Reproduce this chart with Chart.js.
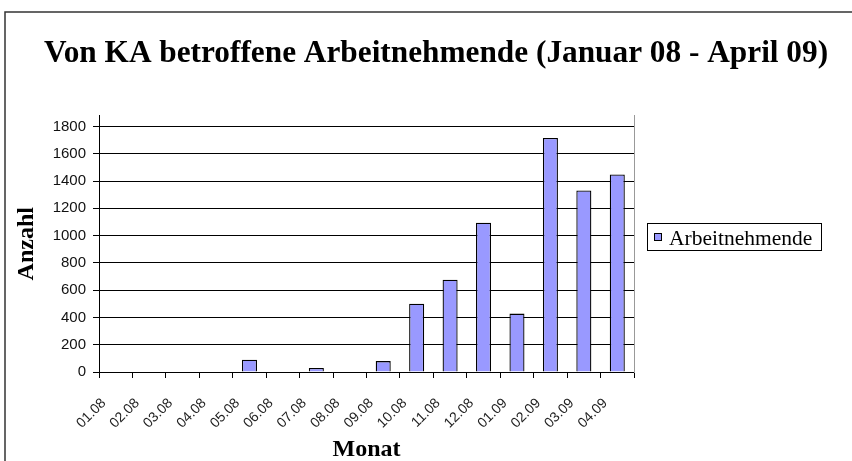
<!DOCTYPE html>
<html>
<head>
<meta charset="utf-8">
<script src="https://cdn.jsdelivr.net/npm/chart.js@4/dist/chart.umd.min.js"></script>
<style>
  html, body { margin: 0; padding: 0; background: #fff; }
  #wrap { width: 852px; height: 461px; position: relative; }
</style>
</head>
<body>
<div id="wrap"><canvas id="kaChart" width="852" height="461"></canvas></div>
<script>
// Daten
const monate = ['01.08', '02.08', '03.08', '04.08', '05.08', '06.08', '07.08', '08.08',
                '09.08', '10.08', '11.08', '12.08', '01.09', '02.09', '03.09', '04.09'];
const arbeitnehmende = [0, 0, 0, 0, 90, 0, 30, 0, 80, 500, 676, 1095, 428, 1715, 1331, 1448];
const yTicks = [0, 200, 400, 600, 800, 1000, 1200, 1400, 1600, 1800];

const serif = '"Liberation Serif", "Times New Roman", serif';
const sans = '"Liberation Sans", Arial, sans-serif';

// Rahmen oben/links wie im Original
const framePlugin = {
    id: 'frame',
    beforeDraw(chart) {
        const c = chart.ctx;
        c.save();
        c.fillStyle = '#fff';
        c.fillRect(0, 0, chart.width, chart.height);
        c.strokeStyle = '#333';
        c.lineWidth = 1.5;
        c.beginPath();
        c.moveTo(5, chart.height);
        c.lineTo(5, 12);
        c.lineTo(chart.width, 12);
        c.stroke();
        c.restore();
    }
};

// Legende mit Kasten
const boxLegend = {
    id: 'boxLegend',
    afterDraw(chart) {
        const c = chart.ctx;
        const ds = chart.data.datasets[0];
        c.save();
        c.strokeStyle = '#000';
        c.lineWidth = 1;
        c.strokeRect(647.5, 223.5, 174, 27);
        c.fillStyle = ds.backgroundColor;
        c.fillRect(654.5, 233.5, 7, 7);
        c.strokeRect(654.5, 233.5, 7, 7);
        c.fillStyle = '#000';
        c.font = '21.5px ' + serif;
        c.textBaseline = 'alphabetic';
        c.fillText(ds.label, 669, 245);
        c.restore();
    }
};

new Chart(document.getElementById('kaChart').getContext('2d'), {
    type: 'bar',
    data: {
        labels: monate,
        datasets: [{
            label: 'Arbeitnehmende',
            data: arbeitnehmende,
            backgroundColor: '#9999FF',
            borderColor: '#000',
            borderWidth: 1.3,
            categoryPercentage: 1,
            barPercentage: 0.45
        }]
    },
    options: {
        responsive: false,
        animation: false,
        layout: { padding: { left: 20, right: 0, top: 0, bottom: 0 } },
        plugins: {
            legend: { display: false },
            tooltip: { enabled: false },
            title: {
                display: true,
                text: 'Von KA betroffene Arbeitnehmende (Januar 08 - April 09)',
                color: '#000',
                font: { family: serif, size: 31.3, weight: 'bold' },
                padding: { top: 35, bottom: 43 }
            }
        },
        scales: {
            x: {
                offset: true,
                grid: {
                    offset: true,
                    drawOnChartArea: false,
                    tickColor: '#000',
                    tickLength: 6
                },
                border: { color: '#000', width: 1 },
                ticks: {
                    color: '#222',
                    font: { family: sans, size: 14 },
                    minRotation: 45,
                    maxRotation: 45,
                    autoSkip: false,
                    padding: 17,
                    labelOffset: -12
                },
                title: {
                    display: true,
                    text: 'Monat',
                    color: '#000',
                    font: { family: serif, size: 24, weight: 'bold' },
                    padding: { top: 0, bottom: -3 }
                },
                afterFit: s => { s.height = 89; }
            },
            y: {
                min: 0,
                max: 1880,
                afterBuildTicks: axis => { axis.ticks = yTicks.map(v => ({ value: v })); },
                grid: { color: '#000', tickColor: '#000', tickLength: 6 },
                border: { color: '#000', width: 1 },
                ticks: {
                    color: '#111',
                    font: { family: sans, size: 15 },
                    padding: 7,
                    callback: v => String(v)
                },
                title: {
                    display: true,
                    text: 'Anzahl',
                    color: '#000',
                    font: { family: serif, size: 24, weight: 'bold' },
                    padding: { top: -8, bottom: 0 }
                },
                afterFit: s => { s.width = 79; }
            },
            rechts: {
                type: 'linear',
                position: 'right',
                grid: { drawOnChartArea: false, drawTicks: false },
                border: { color: '#999', width: 1 },
                ticks: { display: false },
                afterFit: s => { s.width = 218; }
            }
        }
    },
    plugins: [framePlugin, boxLegend]
});
</script>
</body>
</html>
